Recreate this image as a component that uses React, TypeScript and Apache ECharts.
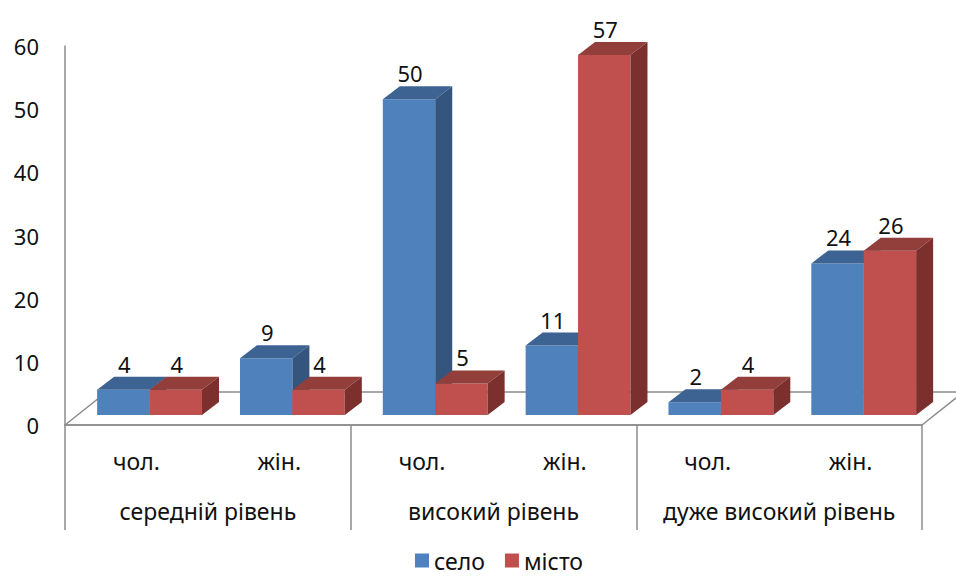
import React, { useEffect, useRef } from "react";
import * as echarts from "echarts";

const categories = ["чол.", "жін.", "чол.", "жін.", "чол.", "жін."];
const groups = ["середній рівень", "високий рівень", "дуже високий рівень"];
const seriesNames = ["село", "місто"];
const selo = [4, 9, 50, 11, 2, 24];
const misto = [4, 4, 5, 57, 4, 26];
const yTicks = { min: 0, max: 60, interval: 10 };

const FONT = "Noto Sans";
const GRID = { left: 65, right: 34, top: 46, bottom: 155 };
const palettes = [
  { front: "#4F81BD", top: "#3C6392", side: "#34557E" },
  { front: "#C0504D", top: "#923E3B", side: "#7C302E" },
];

function makeRender(sIdx: number) {
  return (params: any, api: any) => {
    const idx = api.value(0);
    const v = api.value(1);
    const base = api.coord([idx, 0]);
    const topPt = api.coord([idx, v]);
    const band = api.size([1, 0])[0];
    const barW = band * 0.367;
    const shiftX = band * 0.092;
    const shiftY = -10;
    const dx = 17;
    const dy = -13;
    const left = base[0] + shiftX + (sIdx === 0 ? -barW : 0);
    const right = left + barW;
    const y0 = base[1] + shiftY;
    const y1 = topPt[1] + shiftY;
    const c = palettes[sIdx];
    return {
      type: "group",
      children: [
        {
          type: "rect",
          shape: { x: left, y: y1, width: barW, height: y0 - y1 },
          style: { fill: c.front },
        },
        {
          type: "polygon",
          shape: {
            points: [
              [left, y1],
              [left + dx, y1 + dy],
              [right + dx, y1 + dy],
              [right, y1],
            ],
          },
          style: { fill: c.top },
        },
        {
          type: "polygon",
          shape: {
            points: [
              [right, y1],
              [right + dx, y1 + dy],
              [right + dx, y0 + dy],
              [right, y0],
            ],
          },
          style: { fill: c.side },
        },
        {
          type: "text",
          style: {
            text: String(v),
            x: left + barW / 2 + 1,
            y: y1 - 26,
            align: "center",
            verticalAlign: "middle",
            font: `22px "${FONT}"`,
            fill: "#111",
          },
        },
      ],
    };
  };
}

export default function App() {
  const ref = useRef<HTMLDivElement>(null);
  useEffect(() => {
    if (!ref.current) return;
    const chart = echarts.init(ref.current, undefined, { renderer: "svg" });
    const axisGray = "#8C8C8C";
    const fx0 = GRID.left;
    const fy0 = 580 - GRID.bottom;
    const fx1 = 956 - GRID.right;
    const floorDX = 41.5;
    const floorDY = 33;
    chart.setOption({
      animation: false,
      textStyle: { fontFamily: FONT },
      grid: { ...GRID, containLabel: false },
      graphic: [
        {
          type: "polyline",
          z: 0,
          shape: {
            points: [
              [fx0, fy0],
              [fx0 + floorDX, fy0 - floorDY],
              [fx1 + floorDX, fy0 - floorDY],
              [fx1, fy0],
            ],
          },
          style: { stroke: axisGray, lineWidth: 1.5, fill: null },
        },
      ],
      legend: {
        data: seriesNames,
        top: 547,
        left: 413,
        padding: 2,
        icon: "rect",
        itemWidth: 14,
        itemHeight: 14,
        itemGap: 20,
        textStyle: { fontSize: 23, lineHeight: 20, color: "#111", fontFamily: FONT },
      },
      xAxis: [
        {
          type: "category",
          data: categories,
          position: "bottom",
          axisLine: { show: true, lineStyle: { color: axisGray, width: 1.5 } },
          axisTick: { show: false },
          axisLabel: { margin: 24, fontSize: 23, color: "#111", fontFamily: FONT, interval: 0 },
        },
        {
          type: "category",
          data: groups,
          position: "bottom",
          axisLine: { show: true, lineStyle: { color: axisGray, width: 1.5 } },
          axisTick: { show: true, length: 105, alignWithLabel: false, interval: 0, lineStyle: { color: axisGray, width: 1.5 } },
          axisLabel: { margin: 74, fontSize: 23, color: "#111", fontFamily: FONT, interval: 0 },
        },
      ],
      yAxis: {
        type: "value",
        ...yTicks,
        axisLine: { show: true, lineStyle: { color: axisGray, width: 1.5 } },
        axisTick: { show: false },
        splitLine: { show: false },
        axisLabel: { margin: 26, fontSize: 22, color: "#111", fontFamily: FONT },
      },
      series: [selo, misto].map((arr, sIdx) => ({
        type: "custom",
        name: seriesNames[sIdx],
        z: 5,
        itemStyle: { color: palettes[sIdx].front },
        renderItem: makeRender(sIdx),
        encode: { x: 0, y: 1 },
        data: arr.map((v, i) => [i, v]),
      })),
    });
    return () => chart.dispose();
  }, []);
  return (
    <div
      ref={ref}
      style={{ position: "fixed", left: 0, top: 0, width: 956, height: 580, background: "#fff" }}
    />
  );
}
